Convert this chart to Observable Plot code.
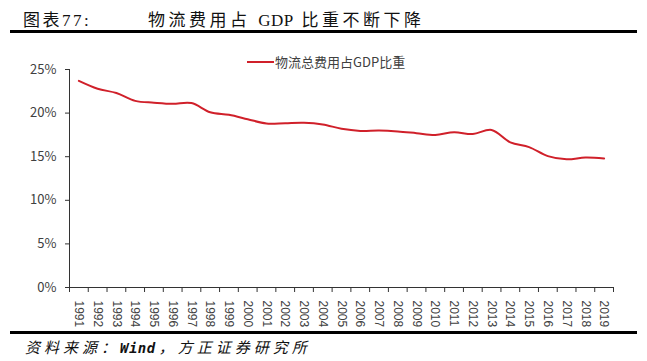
<!DOCTYPE html>
<html>
<head>
<meta charset="utf-8">
<script src="https://cdn.jsdelivr.net/npm/d3@7"></script>
<script src="https://cdn.jsdelivr.net/npm/@observablehq/plot@0.6"></script>
<style>
  html, body { margin: 0; padding: 0; background: #fff; }
  #wrap { position: relative; width: 647px; height: 361px; overflow: hidden; background: #fff; }
  #title { position: absolute; left: 0; top: 6px; height: 22px; width: 647px; font-family: "Liberation Serif", "Noto Sans CJK SC", serif; font-size: 17px; color: #111; white-space: nowrap; }
  #title .a { position: absolute; left: 23px; top: 0; letter-spacing: 2.5px; }
  #title .b { position: absolute; left: 148px; top: 0; letter-spacing: 3.5px; }
  #title .t { letter-spacing: 0.5px; }
  .rule { position: absolute; left: 10px; width: 627px; height: 3px; background: #000; }
  #chart { position: absolute; left: 0; top: 38px; }
  #legend { position: absolute; left: 247px; top: 53px; font-family: "Noto Sans CJK SC", sans-serif; font-size: 13px; color: #404040; white-space: nowrap; line-height: 18px; }
  #legend .sw { display: inline-block; width: 27px; height: 2px; background: #d0202a; vertical-align: middle; margin-right: 1px; position: relative; top: -1px; }
  #caption { position: absolute; left: 25px; top: 337px; font-family: "Noto Sans CJK SC", sans-serif; font-style: italic; font-size: 15px; letter-spacing: 4px; color: #111; white-space: nowrap; line-height: 20px; }
  #caption .w { letter-spacing: 0.5px; font-weight: bold; font-family: "DejaVu Sans Mono", monospace; font-size: 14px; margin-right: 3px; }
</style>
</head>
<body>
<div id="wrap">
  <div id="title"><span class="a">图表77:</span><span class="b">物流费用占 <span class="t">GDP</span> 比重不断下降</span></div>
  <div class="rule" style="top:30px"></div>
  <div id="chart"></div>
  <div id="legend"><span class="sw"></span>物流总费用占GDP比重</div>
  <div class="rule" style="top:331px"></div>
  <div id="caption">资料来源：<span class="w">Wind</span>，方正证券研究所</div>
</div>
<script>
const years = [1991,1992,1993,1994,1995,1996,1997,1998,1999,2000,2001,2002,2003,2004,2005,2006,2007,2008,2009,2010,2011,2012,2013,2014,2015,2016,2017,2018,2019];
const ratios = [23.7,22.8,22.3,21.4,21.2,21.07,21.15,20.1,19.8,19.3,18.8,18.85,18.9,18.7,18.2,17.96,18.0,17.9,17.7,17.5,17.8,17.6,18.07,16.65,16.1,15.07,14.7,14.9,14.8];
const yTicks = [0,5,10,15,20,25];

const data = years.map((yr, i) => ({year: yr, value: ratios[i]}));
const boundaries = years.map(y => y - 0.5).concat([years[years.length - 1] + 0.5]);
const x0 = boundaries[0], x1 = boundaries[boundaries.length - 1];

const chart = Plot.plot({
  width: 647,
  height: 292,
  marginTop: 31,
  marginBottom: 43,
  marginLeft: 69,
  marginRight: 34,
  x: {type: "linear", domain: [x0, x1]},
  y: {domain: [0, 25]},
  marks: [
    Plot.axisY(yTicks, {tickSize: 4, tickPadding: 9, tickFormat: d => d + "%", label: null, stroke: "#333", fill: "#404040", fontSize: 13, fontFamily: "Noto Sans CJK SC, sans-serif"}),
    Plot.axisX(boundaries, {tickSize: 5, tickFormat: () => "", label: null, stroke: "#333"}),
    Plot.axisX(years, {tickSize: 0, tickPadding: 13, tickRotate: 90, tickFormat: d => String(d), label: null, fill: "#404040", fontSize: 12, fontFamily: "Liberation Sans, Arial, sans-serif"}),
    Plot.ruleY([0], {stroke: "#333"}),
    Plot.ruleX([x0], {stroke: "#333"}),
    Plot.line(data, {x: "year", y: "value", stroke: "#d0202a", strokeWidth: 2, curve: "catmull-rom"})
  ]
});
document.getElementById("chart").appendChild(chart);
</script>
</body>
</html>
